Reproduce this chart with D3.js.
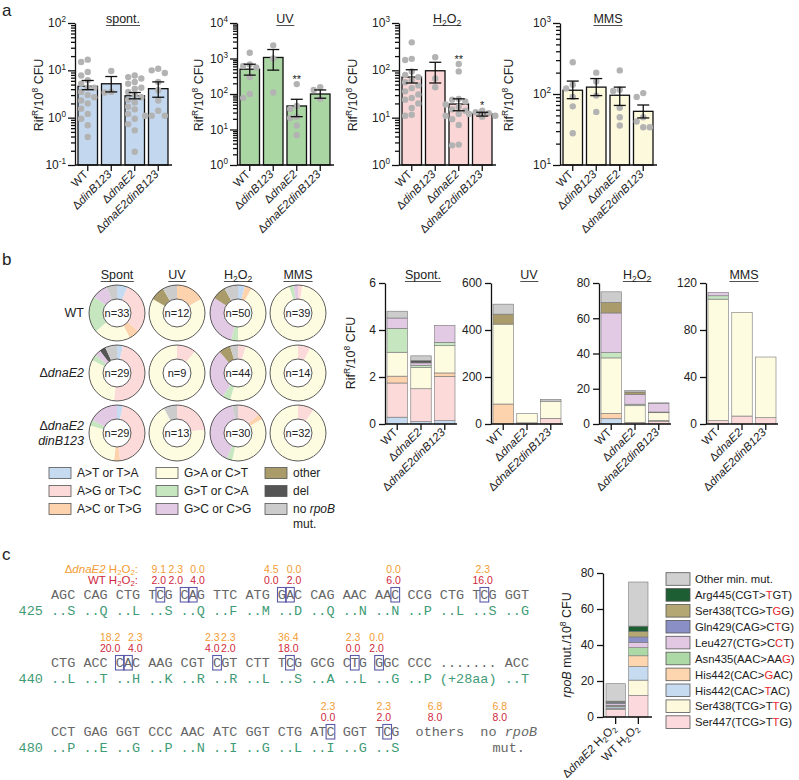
<!DOCTYPE html>
<html><head><meta charset="utf-8">
<script src="https://cdn.jsdelivr.net/npm/d3@7"></script>
<style>
body{margin:0;background:#fff}
text{font-family:"Liberation Sans",Arial,sans-serif;fill:#222}
.mono{font-family:"Liberation Mono","Courier New",monospace}
</style></head><body>
<svg id="fig" width="799" height="780"></svg>
<script>
// ---------- panel a data ----------
var strainsA = ["WT", "ΔdinB123", "ΔdnaE2", "ΔdnaE2dinB123"];

var spontMean = [4.6, 5.2, 2.9, 4.1];
var spontErr = [[3.9, 6.1], [3.5, 7.4], [2.5, 3.4], [2.7, 5.7]];
var spontDots = [
  [16.8, 15, 9.2, 7.8, 6.2, 5.2, 4.3, 4.3, 3.5, 3.0, 2.7, 2.3, 2.0, 1.55, 1.2, 0.95, 0.69, 0.39],
  [9.7, 3.5, 3.4],
  [7.8, 7.2, 6.7, 5.7, 5.2, 4.3, 4.1, 3.5, 3.0, 2.7, 2.4, 2.1, 1.7, 1.5, 1.2, 0.95, 0.73, 0.54, 0.19],
  [10.8, 10, 8.8, 5.7, 3.8, 2.3, 1.4, 1.1, 1.1, 1.1]];

var uvMean = [500, 1070, 46, 100];
var uvErr = [[340, 690], [470, 1790], [23, 71], [76, 130]];
var uvDots = [
  [1450, 680, 620, 560, 300, 100, 78],
  [2350, 1000, 110],
  [190, 46, 38, 23, 21, 13, 7],
  [155, 130, 73]];

var h2o2Mean = [72, 98, 19.4, 12];
var h2o2Err = [[54, 103], [54, 148], [14, 25], [10.8, 13]];
var h2o2Dots = [
  [390, 175, 165, 95, 80, 72, 62, 56, 48, 42, 36, 31, 26, 24, 20, 16, 11.5, 11],
  [190, 67, 44],
  [136, 95, 25, 24, 22, 19, 17, 15, 14, 12, 11, 9.3, 7, 2.7, 2.6],
  [14, 13, 12.5, 12, 11, 10.5]];

var mmsMean = [113, 125, 96, 57];
var mmsErr = [[86, 152], [95, 165], [69, 125], [46, 70]];
var mmsDots = [
  [280, 135, 120, 91, 67, 28],
  [200, 150, 95, 56],
  [215, 115, 110, 64, 47, 36],
  [103, 91, 47, 41, 34, 34]];

var uvStars = ["", "", "**", ""];
var h2o2Stars = ["", "", "**", "*"];

// ---------- panel b data ----------
var conditions = ["Spont", "UV", "H2O2", "MMS"];
var strainsB = ["WT", "ΔdnaE2", "ΔdnaE2dinB123"];
var mutTypes = ["A>T or T>A", "A>G or T>C", "A>C or T>G", "G>A or C>T", "G>T or C>A", "G>C or C>G", "other", "del", "no rpoB mut."];
var mutColors = ["#c6dbef", "#fcdada", "#fdd3ae", "#fdfbe0", "#c6e6c0", "#e2c9e4", "#a99b6a", "#555555", "#cccccc"];
// RifR/10^8 CFU totals per strain (rows) and condition (cols)
var rifTotals = [[4.8, 510, 75, 112], [2.9, 45, 19, 95], [4.2, 105, 12, 57]];
// clone counts per mutation type
var wtCounts = [
  [2, 10, 2, 7, 7, 3, 0, 0, 2],
  [0, 0, 2, 8, 0, 0, 1, 0, 1],
  [2, 0, 2, 21, 2, 15, 4, 0, 4],
  [0, 1, 0, 36, 1, 1, 0, 0, 0]];
var dnaE2Counts = [
  [1, 14, 0, 9, 1, 1, 0, 1, 2],
  [0, 1, 0, 8, 0, 0, 0, 0, 0],
  [0, 2, 0, 22, 2, 13, 3, 0, 2],
  [0, 1, 0, 13, 0, 0, 0, 0, 0]];
var dnaE2dinBCounts = [
  [1, 13, 1, 8, 1, 5, 0, 0, 0],
  [0, 3, 0, 9, 0, 0, 0, 0, 1],
  [0, 4, 1, 11, 1, 12, 0, 0, 1],
  [0, 3, 0, 29, 0, 0, 0, 0, 0]];
var countsB = [wtCounts, dnaE2Counts, dnaE2dinBCounts];

// ---------- panel c data ----------
var seqCodons = [
  "AGC CAG CTG TCG CAG TTC ATG GAC CAG AAC AAC CCG CTG TCG GGT",
  "CTG ACC CAC AAG CGT CGT CTT TCG GCG CTG GGC CCC ....... ACC",
  "CCT GAG GGT CCC AAC ATC GGT CTG ATC GGT TCG  others  no "];
var seqAA = [
  "425 ..S ..Q ..L ..S ..Q ..F ..M ..D ..Q ..N ..N ..P ..L ..S ..G",
  "440 ..L ..T ..H ..K ..R ..R ..L ..S ..A ..L ..G ..P (+28aa) ..T",
  "480 ..P ..E ..G ..P ..N ..I ..G ..L ..I ..G ..S"];
var seqBoxes = [[13, 16, 17, 28, 29, 42, 53], [8, 9, 20, 29, 37, 40], [34, 41]];
var noteAnchor = [[12.8, 14.9, 17.6, 26.7, 29.5, 41.8, 52.8], [6.8, 9.9, 19.4, 21.4, 28.8, 36.8, 39.7], [33.7, 40.6, 46.9, 54.9]];
var dnaE2Pct = [["9.1", "2.3", "0.0", "4.5", "0.0", "0.0", "2.3"], ["18.2", "2.3", "2.3", "2.3", "36.4", "2.3", "0.0"], ["2.3", "2.3", "6.8", "6.8"]];
var wtPct = [["2.0", "2.0", "4.0", "0.0", "2.0", "6.0", "16.0"], ["20.0", "4.0", "4.0", "2.0", "18.0", "0.0", "2.0"], ["0.0", "2.0", "8.0", "8.0"]];

var rpoBStrains = ["ΔdnaE2 H2O2", "WT H2O2"];
var rpoBMuts = ["Ser447(TCG>T{T}G)", "Ser438(TCG>T{T}G)", "His442(CAC>{T}AC)", "His442(CAC>{G}AC)", "Asn435(AAC>AA{G})",
  "Leu427(CTG>C{C}T)", "Gln429(CAG>C{T}G)", "Ser438(TCG>T{G}G)", "Arg445(CGT>{T}GT)", "Other min. mut."];
var rpoBColors = ["#fbd9dc", "#fdf9dd", "#c6dbf0", "#fdd6b0", "#acd9a6", "#e2c8e2", "#8a8fc6", "#b4a774", "#1d5e33", "#d0d0d0"];
var rpoBdnaE2 = [4.3, 0.45, 0.9, 0.45, 0.45, 0.9, 0.45, 0.45, 0.45, 9.7];
var rpoBwt = [12, 8.5, 7.5, 6, 4.5, 3, 3, 3, 3, 24.5];

// ---------- helpers ----------
var svg = d3.select("#fig");

function rich(sel, parts, fs) {
  var shift = 0;
  parts.forEach(function(p) {
    if (typeof p === "string") p = {t: p};
    var target = p.sup ? -fs * 0.38 : p.sub ? fs * 0.2 : 0;
    var ts = sel.append("tspan").text(p.t).attr("dy", target - shift);
    shift = target;
    if (p.sup || p.sub) ts.attr("font-size", fs * 0.68);
    if (p.it) ts.style("font-style", "italic");
    if (p.fill) ts.style("fill", p.fill);
  });
  return sel;
}
function strainParts(s) {
  var out = [];
  var m = s.split(" ");
  var name = m[0];
  if (name[0] == "Δ") { out.push("Δ"); out.push({t: name.slice(1), it: true}); }
  else out.push(name);
  if (m[1] == "H2O2") out = out.concat([" H", {t: "2", sub: 1}, "O", {t: "2", sub: 1}]);
  return out;
}
function condParts(c) {
  return c.indexOf("H2O2") == 0 ? ["H", {t: "2", sub: 1}, "O", {t: "2", sub: 1}] : [c];
}
function underlined(x, y, parts, fs) {
  var t = svg.append("text").attr("x", x).attr("y", y).attr("text-anchor", "middle").attr("font-size", fs);
  rich(t, parts, fs);
  var b = t.node().getBBox();
  svg.append("line").attr("x1", b.x).attr("x2", b.x + b.width).attr("y1", y + 2.5).attr("y2", y + 2.5)
    .attr("stroke", "#222").attr("stroke-width", 0.8);
}
function rifLabel(x, y) {
  var t = svg.append("text").attr("transform", "translate(" + x + "," + y + ") rotate(-90)")
    .attr("text-anchor", "middle").attr("font-size", 12.5);
  rich(t, ["Rif", {t: "R", sup: 1}, "/10", {t: "8", sup: 1}, " CFU"], 12.5);
}
function styleAxis(g) {
  g.selectAll("line,path").attr("stroke", "#111").attr("stroke-width", 1.3);
}
function rotLabels(xs, yTop, labels, fs) {
  labels.forEach(function(s, i) {
    var t = svg.append("text").attr("transform", "translate(" + (xs[i] + 1) + "," + yTop + ") rotate(-45)")
      .attr("text-anchor", "end").attr("dy", "0.35em").attr("font-size", fs);
    rich(t, strainParts(s), fs);
  });
}
function swarm(vals, cx, y, r) {
  var placed = [];
  var sorted = vals.map(function(v) { return {v: v, py: y(v)}; }).sort(function(a, b) { return a.py - b.py; });
  sorted.forEach(function(d) {
    var offs = [0, -1, 1, -2, 2, -0.5, 0.5, -1.5, 1.5];
    for (var k = 0; k < offs.length; k++) {
      var px = cx + offs[k] * 2.05 * r;
      var ok = placed.every(function(q) { return Math.hypot(q.px - px, q.py - d.py) >= 2 * r; });
      if (ok) { d.px = px; break; }
    }
    if (d.px === undefined) d.px = cx;
    placed.push(d);
  });
  return placed;
}

// ---------- panel letters ----------
[["a", 2, 16], ["b", 2, 265], ["c", 2, 560]].forEach(function(l) {
  svg.append("text").attr("x", l[1]).attr("y", l[2]).attr("font-size", 17).text(l[0]);
});

// ---------- panel a ----------
var YA0 = 165, YA1 = 23;
var panelsA = [
  {title: ["spont."], x0: 75, lab: 43, dom: [0.1, 100], mean: spontMean, err: spontErr, dots: spontDots, stars: [], fill: "#c3d7ee"},
  {title: ["UV"], x0: 237, lab: 203, dom: [1, 10000], mean: uvMean, err: uvErr, dots: uvDots, stars: uvStars, fill: "#a9d6a3"},
  {title: condParts("H2O2"), x0: 399, lab: 357, dom: [1, 1000], mean: h2o2Mean, err: h2o2Err, dots: h2o2Dots, stars: h2o2Stars, fill: "#fbd6d6"},
  {title: ["MMS"], x0: 560, lab: 513, dom: [10, 1000], mean: mmsMean, err: mmsErr, dots: mmsDots, stars: [], fill: "#fcf9dd"}];

panelsA.forEach(function(p) {
  var y = d3.scaleLog().domain(p.dom).range([YA0, YA1]);
  var x = d3.scaleBand().domain(strainsA).range([p.x0 + 3, p.x0 + 93]).paddingInner(0.17);
  var g = svg.append("g");
  g.selectAll("rect").data(strainsA).join("rect")
    .attr("x", function(d) { return x(d); }).attr("width", x.bandwidth())
    .attr("y", function(d, i) { return y(p.mean[i]); })
    .attr("height", function(d, i) { return YA0 - y(p.mean[i]); })
    .attr("fill", p.fill).attr("stroke", "#111").attr("stroke-width", 1.3);
  strainsA.forEach(function(s, i) {
    var cx = x(s) + x.bandwidth() / 2;
    var pts = swarm(p.dots[i], cx, y, 3.2);
    g.selectAll(null).data(pts).join("circle")
      .attr("cx", function(d) { return d.px; }).attr("cy", function(d) { return d.py; })
      .attr("r", 3.2).attr("fill", "#b3b3b3");
    var e0 = y(p.err[i][0]), e1 = y(p.err[i][1]);
    g.append("line").attr("x1", cx).attr("x2", cx).attr("y1", e0).attr("y2", e1).attr("stroke", "#111").attr("stroke-width", 1.3);
    [e0, e1].forEach(function(v) {
      g.append("line").attr("x1", cx - 6).attr("x2", cx + 6).attr("y1", v).attr("y2", v).attr("stroke", "#111").attr("stroke-width", 1.3);
    });
    if (p.stars[i]) {
      var top = y(Math.max(d3.max(p.dots[i]), p.err[i][1]));
      g.append("text").attr("x", cx).attr("y", top - 1.5).attr("text-anchor", "middle").attr("font-size", 11).text(p.stars[i]);
    }
  });
  var lo = Math.round(Math.log10(p.dom[0])), hi = Math.round(Math.log10(p.dom[1]));
  var decades = d3.range(lo, hi + 1);
  var minors = [];
  decades.slice(0, -1).forEach(function(e) { d3.range(2, 10).forEach(function(m) { minors.push(m * Math.pow(10, e)); }); });
  var ax = g.append("g").attr("transform", "translate(" + p.x0 + ",0)")
    .call(d3.axisLeft(y).tickValues(decades.map(function(e) { return Math.pow(10, e); })).tickSize(7).tickSizeOuter(0).tickFormat(""));
  styleAxis(ax);
  var mx = g.append("g").attr("transform", "translate(" + p.x0 + ",0)")
    .call(d3.axisLeft(y).tickValues(minors).tickSize(4).tickFormat(""));
  mx.select(".domain").remove();
  styleAxis(mx);
  decades.forEach(function(e) {
    var t = g.append("text").attr("x", p.x0 - 9).attr("y", y(Math.pow(10, e)) + 4).attr("text-anchor", "end").attr("font-size", 12);
    rich(t, ["10", {t: String(e), sup: 1}], 12);
  });
  var bx = g.append("g").attr("transform", "translate(0," + YA0 + ")")
    .call(d3.axisBottom(x).tickSize(6).tickSizeOuter(0).tickFormat(""));
  bx.select(".domain").attr("d", "M" + p.x0 + ",0H" + (p.x0 + 97));
  styleAxis(bx);
  rotLabels(strainsA.map(function(s) { return x(s) + x.bandwidth() / 2; }), YA0 + 10, strainsA, 11.5);
  rifLabel(p.lab, 95);
  underlined(p.x0 + 48, 23, p.title, 12.5);
});

// ---------- panel b donuts ----------
var donutX = [117, 177, 238, 298], donutY = [313, 373, 433];
var pie = d3.pie().sort(null);
var arc = d3.arc().innerRadius(14).outerRadius(28);
conditions.forEach(function(c, j) {
  underlined(donutX[j], 279, condParts(c), 12.5);
  strainsB.forEach(function(s, i) {
    var cnt = countsB[i][j];
    var g = svg.append("g").attr("transform", "translate(" + donutX[j] + "," + donutY[i] + ")");
    g.selectAll("path").data(pie(cnt)).join("path").attr("d", arc)
      .attr("fill", function(d) { return mutColors[d.index]; });
    g.append("circle").attr("r", 28).attr("fill", "none").attr("stroke", "#333").attr("stroke-width", 0.8);
    g.append("circle").attr("r", 14).attr("fill", "#fff").attr("stroke", "#333").attr("stroke-width", 0.8);
    g.append("text").attr("text-anchor", "middle").attr("dy", "0.36em").attr("font-size", 11).text("n=" + d3.sum(cnt));
  });
});
svg.append("text").attr("x", 84).attr("y", 317).attr("text-anchor", "end").attr("font-size", 12.5).text("WT");
rich(svg.append("text").attr("x", 84).attr("y", 377).attr("text-anchor", "end").attr("font-size", 12.5), strainParts("ΔdnaE2"), 12.5);
rich(svg.append("text").attr("x", 84).attr("y", 430).attr("text-anchor", "end").attr("font-size", 12.5), strainParts("ΔdnaE2"), 12.5);
rich(svg.append("text").attr("x", 84).attr("y", 445).attr("text-anchor", "end").attr("font-size", 12.5), [{t: "dinB123", it: true}], 12.5);

// legend b
var legCols = [49, 156, 265], legRows = [473, 491, 509];
mutTypes.forEach(function(m, k) {
  var cx = legCols[Math.floor(k / 3)], cy = legRows[k % 3];
  svg.append("rect").attr("x", cx).attr("y", cy - 5.5).attr("width", 22).attr("height", 11)
    .attr("fill", mutColors[k]).attr("stroke", "#555").attr("stroke-width", 0.8);
  var t = svg.append("text").attr("x", cx + 28).attr("y", cy + 4.3).attr("font-size", 12);
  if (m.indexOf("rpoB") >= 0) {
    rich(t, ["no ", {t: "rpoB", it: true}], 12);
    svg.append("text").attr("x", cx + 28).attr("y", cy + 18.5).attr("font-size", 12).text("mut.");
  } else t.text(m);
});

// ---------- panel b stacked bars ----------
var barAx = [385, 491, 599, 706], barMax = [6, 600, 80, 120], barStep = [2, 200, 20, 40];
var titleB = ["Spont.", "UV", "H2O2", "MMS"];
var YB0 = 424, YB1 = 283;
conditions.forEach(function(c, j) {
  var y = d3.scaleLinear().domain([0, barMax[j]]).range([YB0, YB1]);
  var x = d3.scaleBand().domain(strainsB).range([barAx[j] + 2, barAx[j] + 70]).paddingInner(0.14);
  var rows = strainsB.map(function(s, i) {
    var cnt = countsB[i][j], n = d3.sum(cnt), r = {strain: s};
    mutTypes.forEach(function(m, k) { r[m] = cnt[k] / n * rifTotals[i][j]; });
    return r;
  });
  var series = d3.stack().keys(mutTypes)(rows);
  var g = svg.append("g");
  g.selectAll("g").data(series).join("g").attr("fill", function(d, k) { return mutColors[k]; })
    .selectAll("rect").data(function(d) { return d.filter(function(v) { return v[1] - v[0] > 0; }); }).join("rect")
    .attr("x", function(d) { return x(d.data.strain); }).attr("width", x.bandwidth())
    .attr("y", function(d) { return y(d[1]); }).attr("height", function(d) { return y(d[0]) - y(d[1]); })
    .attr("stroke", "#777").attr("stroke-width", 0.6);
  var ay = g.append("g").attr("transform", "translate(" + barAx[j] + ",0)")
    .call(d3.axisLeft(y).tickValues(d3.range(0, barMax[j] + 1, barStep[j])).tickSize(6).tickSizeOuter(0)
      .tickPadding(3).tickFormat(d3.format("d")));
  ay.selectAll("text").attr("font-size", 12).style("fill", "#222").attr("font-family", null);
  styleAxis(ay);
  var axb = g.append("g").attr("transform", "translate(0," + YB0 + ")")
    .call(d3.axisBottom(x).tickSize(6).tickSizeOuter(0).tickFormat(""));
  axb.select(".domain").attr("d", "M" + barAx[j] + ",0H" + (barAx[j] + 72));
  styleAxis(axb);
  rotLabels(strainsB.map(function(s) { return x(s) + x.bandwidth() / 2; }), YB0 + 9, strainsB, 11.5);
  underlined(barAx[j] + 38, 279, condParts(titleB[j]), 12.5);
});
rifLabel(355, 353);

// ---------- panel c sequence ----------
var CW = 8.1, SX = 51;
var rowY = [599, 667, 736], aaDy = 16, orDy = -26, redDy = -15;
var cx = function(i) { return SX + i * CW; };
seqCodons.forEach(function(s, r) {
  var t = svg.append("text").attr("class", "mono").attr("x", cx(0)).attr("y", rowY[r])
    .attr("font-size", 13.5).style("fill", "#666").style("white-space", "pre");
  t.append("tspan").text(s);
  if (r == 2) t.append("tspan").style("font-style", "italic").text("rpoB");
  svg.append("text").attr("class", "mono").attr("x", cx(-4)).attr("y", rowY[r] + aaDy)
    .attr("font-size", 13.5).style("fill", "#3f9b76").style("white-space", "pre").text(seqAA[r]);
  seqBoxes[r].forEach(function(b) {
    svg.append("rect").attr("x", cx(b) - 0.3).attr("y", rowY[r] - 11.5).attr("width", CW + 0.6).attr("height", 14.5)
      .attr("fill", "none").attr("stroke", "#5a5aa8").attr("stroke-width", 1.1);
  });
  noteAnchor[r].forEach(function(a, k) {
    svg.append("text").attr("x", cx(a + 0.5)).attr("y", rowY[r] + orDy).attr("text-anchor", "middle")
      .attr("font-size", 10.5).style("fill", "#f39c33").text(dnaE2Pct[r][k]);
    svg.append("text").attr("x", cx(a + 0.5)).attr("y", rowY[r] + redDy).attr("text-anchor", "middle")
      .attr("font-size", 10.5).style("fill", "#d0283c").text(wtPct[r][k]);
  });
});
svg.append("text").attr("class", "mono").attr("x", cx(56.5)).attr("y", rowY[2] + aaDy).attr("text-anchor", "middle")
  .attr("font-size", 13.5).style("fill", "#666").text("mut.");
rich(svg.append("text").attr("x", 138).attr("y", rowY[0] + orDy).attr("text-anchor", "end").attr("font-size", 11.5).style("fill", "#f39c33"),
  ["Δ", {t: "dnaE2", it: true}, " H", {t: "2", sub: 1}, "O", {t: "2", sub: 1}, ":"], 11.5);
rich(svg.append("text").attr("x", 138).attr("y", rowY[0] + redDy).attr("text-anchor", "end").attr("font-size", 11.5).style("fill", "#d0283c"),
  ["WT H", {t: "2", sub: 1}, "O", {t: "2", sub: 1}, ":"], 11.5);

// ---------- panel c bars ----------
(function() {
  var y = d3.scaleLinear().domain([0, 80]).range([717, 573]);
  var x = d3.scaleBand().domain(rpoBStrains).range([606, 648]).paddingInner(0.15);
  var rows = [rpoBdnaE2, rpoBwt].map(function(v, i) {
    var r = {strain: rpoBStrains[i]};
    rpoBMuts.forEach(function(m, k) { r[m] = v[k]; });
    return r;
  });
  var series = d3.stack().keys(rpoBMuts)(rows);
  var g = svg.append("g");
  g.selectAll("g").data(series).join("g").attr("fill", function(d, k) { return rpoBColors[k]; })
    .selectAll("rect").data(function(d) { return d; }).join("rect")
    .attr("x", function(d) { return x(d.data.strain); }).attr("width", x.bandwidth())
    .attr("y", function(d) { return y(d[1]); }).attr("height", function(d) { return y(d[0]) - y(d[1]); })
    .attr("stroke", "#777").attr("stroke-width", 0.6);
  var ay = g.append("g").attr("transform", "translate(603,0)")
    .call(d3.axisLeft(y).tickValues([0, 20, 40, 60, 80]).tickSize(6).tickSizeOuter(0).tickPadding(3));
  ay.selectAll("text").attr("font-size", 12).style("fill", "#222").attr("font-family", null);
  styleAxis(ay);
  var axb = g.append("g").attr("transform", "translate(0,717)")
    .call(d3.axisBottom(x).tickSize(7).tickSizeOuter(0).tickFormat(""));
  axb.select(".domain").attr("d", "M603,0H652");
  styleAxis(axb);
  rotLabels(rpoBStrains.map(function(s) { return x(s) + x.bandwidth() / 2; }), 729, rpoBStrains, 11.5);
  var t = svg.append("text").attr("transform", "translate(571,645) rotate(-90)").attr("text-anchor", "middle").attr("font-size", 12.5);
  rich(t, [{t: "rpoB", it: true}, " mut./10", {t: "8", sup: 1}, " CFU"], 12.5);

  var legend = rpoBMuts.slice().reverse();
  var lcol = rpoBColors.slice().reverse();
  legend.forEach(function(m, i) {
    var cy = 579 + i * 15.9;
    svg.append("rect").attr("x", 666).attr("y", cy - 6.3).attr("width", 24).attr("height", 12.6)
      .attr("fill", lcol[i]).attr("stroke", "#555").attr("stroke-width", 0.8);
    var tt = svg.append("text").attr("x", 695).attr("y", cy + 4.2).attr("font-size", 11.3);
    m.split(/[{}]/).forEach(function(part, k) {
      if (part) tt.append("tspan").text(part).style("fill", k % 2 ? "#e8262c" : "#222");
    });
  });
})();
</script></body></html>
